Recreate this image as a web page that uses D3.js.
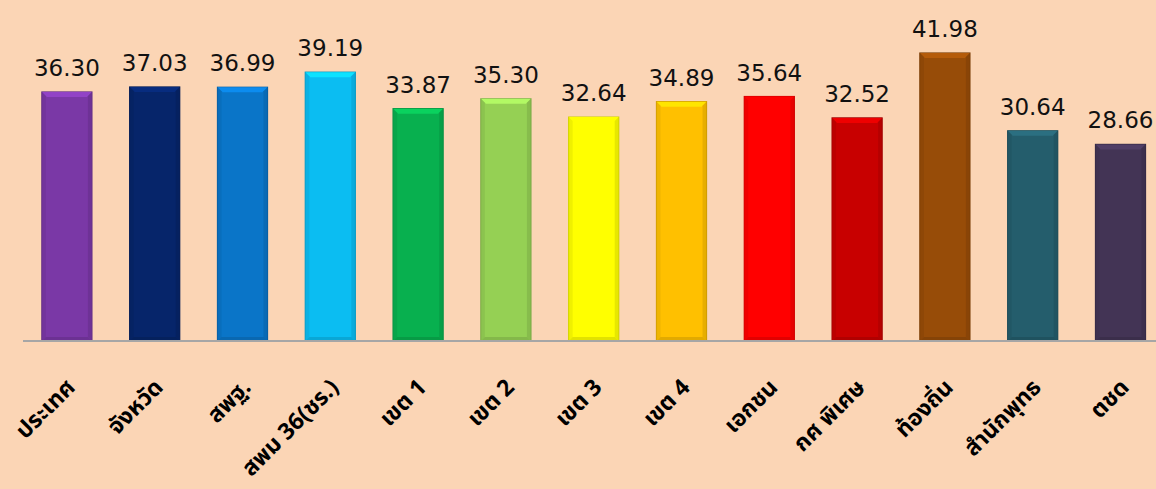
<!DOCTYPE html>
<html><head><meta charset="utf-8">
<script src="https://cdn.jsdelivr.net/npm/d3@7"></script>
<style>
html,body{margin:0;padding:0;background:#fbd5b5;}
svg{display:block;}
</style></head>
<body>
<script>
const categories = ["ประเทศ","จังหวัด","สพฐ.","สพม 36(ชร.)","เขต 1","เขต 2","เขต 3","เขต 4","เอกชน","กศ พิเศษ","ท้องถิ่น","สำนักพุทธ","ตชด"];
const values = [36.30,37.03,36.99,39.19,33.87,35.30,32.64,34.89,35.64,32.52,41.98,30.64,28.66];
const colors = ["#7a38a6","#06256a","#0a75c8","#0bbdf2","#08b04f","#95d054","#ffff00","#ffc000","#ff0000","#c80000","#974c08","#245d6c","#433455"];

const W = 1156, H = 489;
const baseY = 341;
const svg = d3.select("body").append("svg").attr("width", W).attr("height", H);
svg.append("rect").attr("width", W).attr("height", H).attr("fill", "#fbd5b5");

const x = d3.scaleBand().domain(categories).range([23, 23 + 13 * 87.8]).paddingInner(0.43).paddingOuter(0.215);
const y = d3.scaleLinear().domain([0, 42]).range([baseY, baseY - 42 * 6.86]);

const data = categories.map((c, i) => ({c, v: values[i], col: colors[i]}));

const g = svg.append("g");
const bars = g.selectAll("g.bar").data(data).join("g").attr("class", "bar");
bars.append("rect")
  .attr("x", d => x(d.c)).attr("y", d => y(d.v))
  .attr("width", x.bandwidth()).attr("height", d => baseY - y(d.v))
  .attr("fill", d => d.col)
  .attr("stroke", d => d3.color(d.col).darker(0.6))
  .attr("stroke-width", 1.2);
bars.append("path")
  .attr("d", d => {
    const x0 = x(d.c), x1 = x0 + x.bandwidth(), t = y(d.v), b = 5;
    return `M${x0},${t}L${x1},${t}L${x1-b},${t+b}L${x0+b},${t+b}Z`;
  })
  .attr("fill", d => d3.color(d.col).brighter(0.5));
bars.append("path")
  .attr("d", d => {
    const x0 = x(d.c), t = y(d.v), b = 4;
    return `M${x0},${t}L${x0+b},${t+b}L${x0+b},${baseY-b}L${x0},${baseY}Z`;
  })
  .attr("fill", d => d3.color(d.col).darker(0.25)).attr("opacity", 0.7);
bars.append("path")
  .attr("d", d => {
    const x1 = x(d.c) + x.bandwidth(), t = y(d.v), b = 4;
    return `M${x1},${t}L${x1-b},${t+b}L${x1-b},${baseY-b}L${x1},${baseY}Z`;
  })
  .attr("fill", d => d3.color(d.col).darker(0.4)).attr("opacity", 0.7);
bars.append("path")
  .attr("d", d => {
    const x0 = x(d.c), x1 = x0 + x.bandwidth(), b = 4;
    return `M${x0},${baseY}L${x0+b},${baseY-b}L${x1-b},${baseY-b}L${x1},${baseY}Z`;
  })
  .attr("fill", d => d3.color(d.col).darker(0.5)).attr("opacity", 0.7);

g.selectAll("text.val").data(data).join("text").attr("class", "val")
  .attr("x", d => x(d.c) + x.bandwidth() / 2)
  .attr("y", d => y(d.v) - 16)
  .attr("text-anchor", "middle")
  .attr("font-family", "DejaVu Sans, Verdana, sans-serif")
  .attr("font-size", 23)
  .attr("fill", "#111")
  .text(d => d.v.toFixed(2));

const xAxis = d3.axisBottom(x).tickSize(0).tickPadding(0);
const ax = svg.append("g").attr("transform", `translate(0,${baseY})`).call(xAxis);
ax.select(".domain").attr("d", `M23,0H${W}`).attr("stroke", "#a6a6a6").attr("stroke-width", 2);
ax.selectAll(".tick text")
  .attr("font-family", "Noto Sans Thai, Loma, Tahoma, DejaVu Sans, sans-serif")
  .attr("font-size", 23).attr("font-weight", "bold").attr("fill", "#000")
  .attr("text-anchor", "end")
  .attr("transform", "translate(4,42) rotate(-45)")
  .attr("dy", "0.35em").attr("y", 0);
</script>
</body></html>
